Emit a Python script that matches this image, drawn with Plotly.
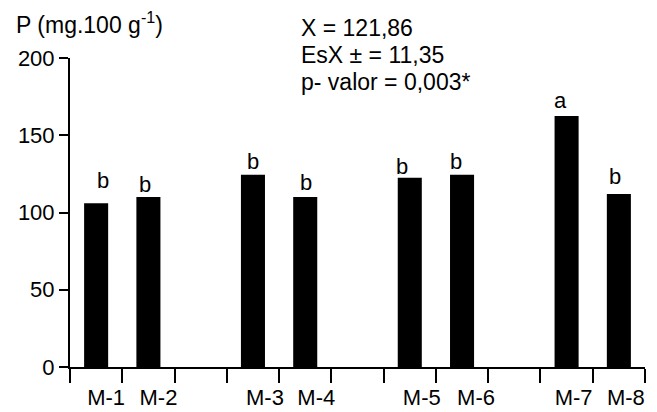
import plotly.graph_objects as go

# Phosphorus content per sample
samples = ["M-1", "M-2", "M-3", "M-4", "M-5", "M-6", "M-7", "M-8"]
p_values = [106, 110, 124.5, 110, 122.5, 124.5, 162.5, 112]
groups = ["b", "b", "b", "b", "b", "b", "a", "b"]
y_ticks = [0, 50, 100, 150, 200]

# Bars sit in pairs with an empty slot between pairs
slots = [0, 1, 3, 4, 6, 7, 9, 10]
slot_px = 52.2
FONT = "Liberation Sans, Arial, Helvetica, sans-serif"

# plot area in pixels
L, R, T, B = 70, 12, 58, 45
W, H = 657, 412
PW, PH = W - L - R, H - T - B


def px_to_paper(x, y):
    return (x - L) / PW, (H - B - y) / PH


# small per-label nudges (pixels)
label_dx = [10, 10, 12, 11, 12, 14, 7, 7]
letter_dx = [7, -3, 0, 1, -8, -6, -6, -4]
letter_dy = [23, 13, 13, 15, 11, 13, 15, 17]

fig = go.Figure()
fig.add_trace(go.Bar(
    x=slots, y=p_values, width=0.46,
    marker=dict(color="black", line=dict(width=0)),
    hoverinfo="skip", showlegend=False,
))
label_pos = [s + d / slot_px for s, d in zip(slots, label_dx)]
fig.add_trace(go.Scatter(
    x=label_pos, y=[0] * len(samples), xaxis="x2", mode="markers",
    marker=dict(opacity=0), hoverinfo="skip", showlegend=False,
))

for s, v, g, dx, dy in zip(slots, p_values, groups, letter_dx, letter_dy):
    fig.add_annotation(
        x=s + dx / slot_px, y=v, text=g, showarrow=False,
        xanchor="center", yanchor="middle", yshift=dy,
        font=dict(family=FONT, size=22, color="black"),
    )

tx, ty = px_to_paper(14, 23)
fig.add_annotation(
    xref="paper", yref="paper", x=tx, y=ty, xanchor="left", yanchor="middle",
    text="P (mg.100 g<sup>-1</sup>)", showarrow=False,
    font=dict(family=FONT, size=23, color="black"),
)
stats = ["X = 121,86", "EsX ± = 11,35", "p- valor = 0,003*"]
for i, line in enumerate(stats):
    sx, sy = px_to_paper(299, 28 + i * 27)
    fig.add_annotation(
        xref="paper", yref="paper", x=sx, y=sy,
        xanchor="left", yanchor="middle", text=line, showarrow=False,
        font=dict(family=FONT, size=23, color="black"),
    )

bounds = [s - 0.5 for s in range(12)]
fig.update_layout(
    width=W, height=H,
    margin=dict(l=L, r=R, t=T, b=B, autoexpand=False),
    paper_bgcolor="white", plot_bgcolor="white",
    font=dict(family=FONT, size=22, color="black"),
    xaxis=dict(
        range=[-0.5, 10.5], tickvals=bounds, showticklabels=False,
        ticks="outside", ticklen=14, tickwidth=2, tickcolor="black",
        showline=True, linewidth=2, linecolor="black", automargin=False,
        showgrid=False, zeroline=False, fixedrange=True,
    ),
    xaxis2=dict(
        overlaying="x", anchor="y", side="bottom",
        range=[-0.5, 10.5], tickvals=label_pos, ticktext=samples,
        ticks="outside", ticklen=11, tickcolor="rgba(0,0,0,0)",
        showline=False, showgrid=False, zeroline=False, automargin=False,
        tickfont=dict(family=FONT, size=22, color="black"),
    ),
    yaxis=dict(
        range=[0, 200], tickvals=y_ticks,
        ticks="outside", ticklen=9, tickwidth=2, tickcolor="black",
        showline=True, linewidth=2, linecolor="black", automargin=False,
        showgrid=False, zeroline=False,
        tickfont=dict(family=FONT, size=22, color="black"),
    ),
)

fig.write_html("out.html")
